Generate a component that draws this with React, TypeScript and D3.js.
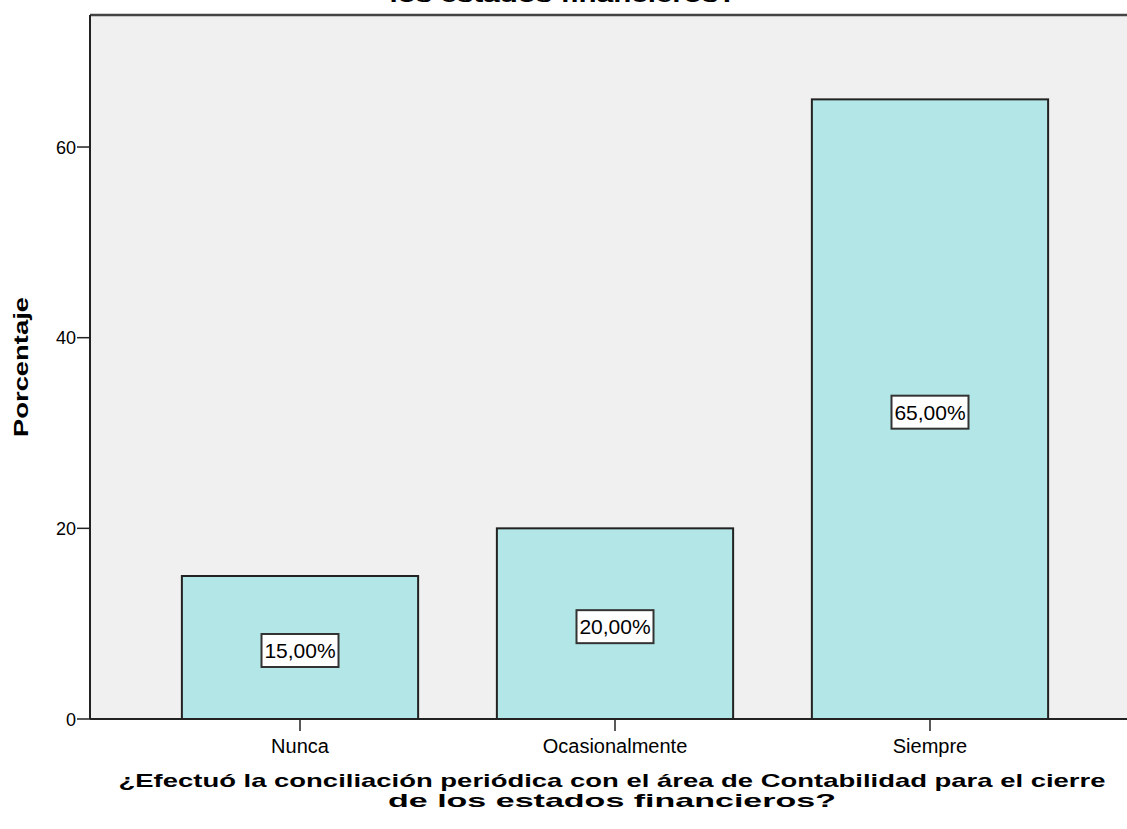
import React from "react";
import * as d3 from "d3";

const categories = ["Nunca", "Ocasionalmente", "Siempre"];
const percentages = [15, 20, 65];
const valueLabels = ["15,00%", "20,00%", "65,00%"];
const yTicks = [0, 20, 40, 60];
const yTitle = "Porcentaje";
const xTitleLines = [
  "¿Efectuó la conciliación periódica con el área de Contabilidad para el cierre",
  "de los estados financieros?",
];
const topTitle = "los estados financieros?";

const W = 1127;
const H = 829;
const left = 90;
const top = 15;
const bottom = 719;

export default function App() {
  const x = d3
    .scaleBand<string>()
    .domain(categories)
    .range([left, 1140])
    .paddingInner(0.25)
    .paddingOuter(0.2917);
  const y = d3.scaleLinear().domain([0, 73.85]).range([bottom, top]);
  const font = "'Liberation Sans', Arial, sans-serif";
  return (
    <svg
      width={W}
      height={H}
      style={{ position: "absolute", left: 0, top: 0, background: "#fff" }}
      fontFamily={font}
    >
      <text
        x={563}
        y={2}
        textAnchor="middle"
        fontSize={21}
        fontWeight="bold"
        fill="#000"
        textLength={347}
        lengthAdjust="spacingAndGlyphs"
      >
        {topTitle}
      </text>
      <rect x={left} y={top} width={W - left + 5} height={bottom - top} fill="#f0f0f0" />
      {categories.map((c, i) => {
        const bx = x(c)!;
        const bw = x.bandwidth();
        const v = percentages[i];
        const cy = y(v / 2) + 3;
        const lw = 77;
        const lh = 33;
        return (
          <g key={c}>
            <rect
              x={bx}
              y={y(v)}
              width={bw}
              height={bottom - y(v)}
              fill="#b3e6e6"
              stroke="#222"
              strokeWidth={2}
            />
            <rect
              x={bx + bw / 2 - lw / 2}
              y={cy - lh / 2}
              width={lw}
              height={lh}
              fill="#fff"
              stroke="#333"
              strokeWidth={2}
            />
            <text
              x={bx + bw / 2}
              y={cy + 7.5}
              textAnchor="middle"
              fontSize={21}
              fill="#000"
            >
              {valueLabels[i]}
            </text>
            <line
              x1={bx + bw / 2}
              x2={bx + bw / 2}
              y1={bottom}
              y2={bottom + 12}
              stroke="#222"
              strokeWidth={1.5}
            />
            <text x={bx + bw / 2} y={bottom + 34} textAnchor="middle" fontSize={20} fill="#000">
              {c}
            </text>
          </g>
        );
      })}
      <line x1={left} x2={W} y1={top} y2={top} stroke="#444" strokeWidth={2.5} />
      <line x1={left} x2={left} y1={top} y2={bottom} stroke="#222" strokeWidth={2} />
      <line x1={left} x2={W} y1={bottom} y2={bottom} stroke="#222" strokeWidth={2} />
      {yTicks.map((t) => (
        <g key={t}>
          <line x1={left - 13} x2={left} y1={y(t)} y2={y(t)} stroke="#222" strokeWidth={1.5} />
          <text x={left - 14} y={y(t) + 6.5} textAnchor="end" fontSize={18} fill="#000">
            {t}
          </text>
        </g>
      ))}
      <text
        transform={`translate(28,${367}) rotate(-90)`}
        textAnchor="middle"
        fontSize={20}
        fontWeight="bold"
        fill="#000"
        textLength={140}
        lengthAdjust="spacingAndGlyphs"
      >
        {yTitle}
      </text>
      {xTitleLines.map((l, i) => (
        <text
          key={i}
          x={612}
          y={787 + i * 20}
          textAnchor="middle"
          fontSize={18.5}
          fontWeight="bold"
          fill="#000"
          textLength={i === 0 ? 987 : 448}
          lengthAdjust="spacingAndGlyphs"
        >
          {l}
        </text>
      ))}
    </svg>
  );
}
